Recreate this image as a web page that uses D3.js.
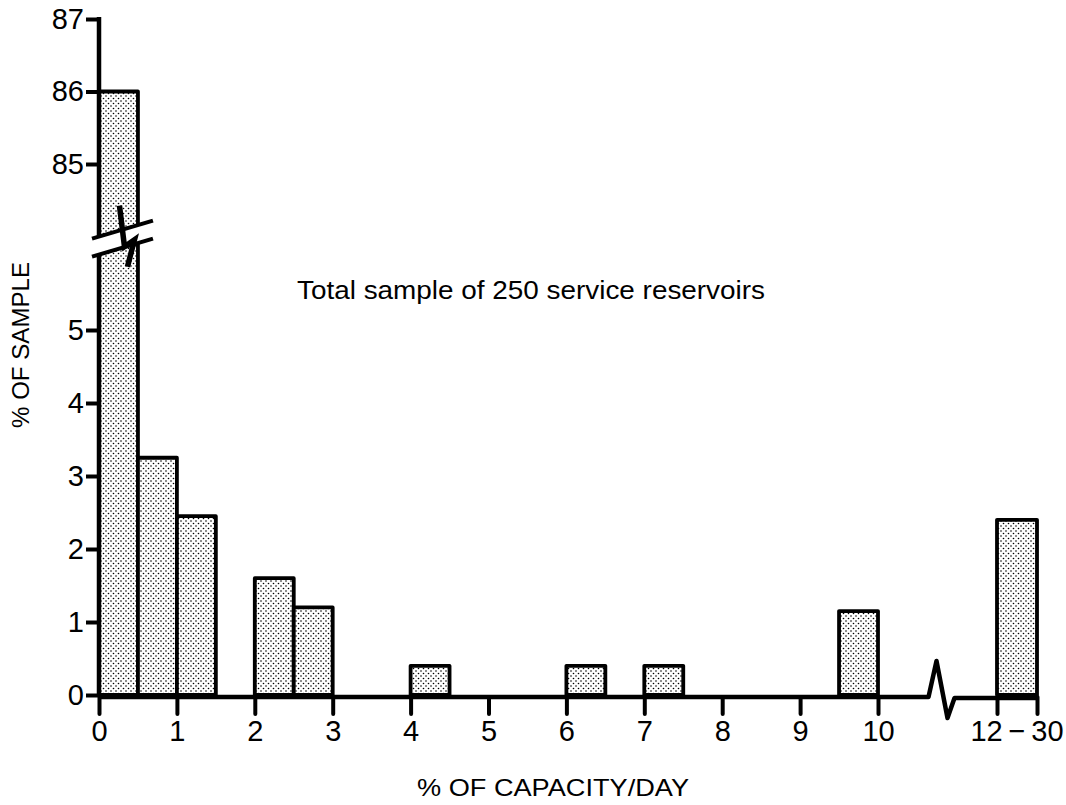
<!DOCTYPE html>
<html>
<head>
<meta charset="utf-8">
<script src="https://cdn.jsdelivr.net/npm/d3@7/dist/d3.min.js"></script>
<style>
  html, body { margin: 0; padding: 0; background: #fff; }
  svg { display: block; font-family: "Liberation Sans", Arial, Helvetica, sans-serif; }
</style>
</head>
<body>
<svg id="chart" width="1066" height="805"></svg>
<script>
// ---- data ----
const binStart = [0, 0.5, 1, 2, 2.5, 4, 6, 7, 9.5, 12];
const binEnd   = [0.5, 1, 1.5, 2.5, 3, 4.5, 6.5, 7.5, 10, 30];
const pctSample = [86, 3.25, 2.45, 1.6, 1.2, 0.4, 0.4, 0.4, 1.15, 2.4];
const xTickValues = [0, 1, 2, 3, 4, 5, 6, 7, 8, 9, 10, 12, 30];
const xTickLabels = ["0", "1", "2", "3", "4", "5", "6", "7", "8", "9", "10", "", ""];
const lastRangeLabel = "12\u2009\u2212\u200930";
const yTickValues = [0, 1, 2, 3, 4, 5, 85, 86, 87];
const xTitle = "% OF CAPACITY/DAY";
const yTitle = "% OF SAMPLE";
const note = "Total sample of 250 service reservoirs";

// ---- scales (broken axes as polylinear scales) ----
const x = d3.scaleLinear().domain([0, 10, 12, 30]).range([99, 878, 997, 1037]);
const y = d3.scaleLinear().domain([0, 5, 85, 87]).range([695, 330, 164, 19]);

const svg = d3.select("#chart");
const FONT = "'Liberation Sans', Arial, Helvetica, sans-serif";

// stipple pattern
const defs = svg.append("defs");
const pat = defs.append("pattern").attr("id", "dots")
  .attr("patternUnits", "userSpaceOnUse").attr("width", 5).attr("height", 5);
pat.append("rect").attr("width", 5).attr("height", 5).attr("fill", "#fff");
pat.append("circle").attr("cx", 1).attr("cy", 1).attr("r", 0.8).attr("fill", "#000");
pat.append("circle").attr("cx", 3.5).attr("cy", 3.5).attr("r", 0.8).attr("fill", "#000");

const bars = binStart.map((s, i) => ({ s, e: binEnd[i], v: pctSample[i] }));

// bars
svg.append("g").selectAll("rect").data(bars).join("rect")
  .attr("x", d => x(d.s))
  .attr("y", d => y(d.v))
  .attr("width", d => x(d.e) - x(d.s))
  .attr("height", d => y(0) - y(d.v))
  .attr("fill", "url(#dots)")
  .attr("stroke", "#000")
  .attr("stroke-width", 3.8)
  .attr("stroke-linejoin", "round");

// y axis
const yAxis = d3.axisLeft(y).tickValues(yTickValues).tickSize(13).tickPadding(2)
  .tickFormat(d3.format("d"));
const gy = svg.append("g").attr("transform", `translate(${x(0)},0)`).call(yAxis);
gy.select(".domain").remove();
gy.selectAll(".tick line").attr("stroke", "#000").attr("stroke-width", 4);
gy.selectAll(".tick text").attr("font-size", 29).attr("fill", "#000")
  .attr("font-family", FONT);
svg.append("line")
  .attr("x1", x(0)).attr("x2", x(0))
  .attr("y1", y(0) + 2).attr("y2", y(87) - 2)
  .attr("stroke", "#000").attr("stroke-width", 4.5);

// x axis
const xAxis = d3.axisBottom(x).tickValues(xTickValues).tickSize(17).tickPadding(6)
  .tickFormat((d, i) => xTickLabels[i]);
const gx = svg.append("g").attr("transform", `translate(0,${y(0) + 2})`).call(xAxis);
gx.select(".domain").remove();
gx.selectAll(".tick line").attr("stroke", "#000").attr("stroke-width", 4)
  .attr("stroke-linecap", "round");
gx.selectAll(".tick text").attr("font-size", 29).attr("fill", "#000")
  .attr("font-family", FONT);

// x axis line with break between 10 and 12
const ax = y(0) + 2;
const bx = (x(10) + x(12)) / 2;
svg.append("path")
  .attr("d", `M${x(0)},${ax} H${bx - 9} L${bx - 1},${ax - 36} L${bx + 10},${ax + 21} L${bx + 17},${ax + 1} H${x(30)}`)
  .attr("fill", "none").attr("stroke", "#000").attr("stroke-width", 4.5)
  .attr("stroke-linejoin", "round");

// last range label centred under 12–30 bar
svg.append("text")
  .attr("x", (x(12) + x(30)) / 2).attr("y", ax + 17 + 6)
  .attr("dy", "0.71em").attr("text-anchor", "middle")
  .attr("font-size", 29).text(lastRangeLabel);

// y axis break
const bxl = x(0) - 7, bxr = x(0.5) + 15;
const byc = y(5) + (y(85) - y(5)) * 0.55;
const slope = 18;
const gap = 18;
const ul = byc - gap / 2 + slope / 2, ur = byc - gap / 2 - slope / 2;
svg.append("path")
  .attr("d", `M${bxl},${ul} L${bxr},${ur} L${bxr},${ur + gap} L${bxl},${ul + gap} Z`)
  .attr("fill", "#fff");
[0, gap].forEach(o => {
  svg.append("line")
    .attr("x1", bxl).attr("y1", ul + o).attr("x2", bxr).attr("y2", ur + o)
    .attr("stroke", "#000").attr("stroke-width", 4);
});
const zc = (x(0) + x(0.5)) / 2;
svg.append("path")
  .attr("d", `M${zc + 1},${byc - 33} L${zc + 6},${byc + 8} L${zc + 16},${byc + 1} L${zc + 9},${byc + 28}`)
  .attr("fill", "none").attr("stroke", "#000").attr("stroke-width", 5.5)
  .attr("stroke-linejoin", "miter");

// annotation
svg.append("text").attr("x", 297).attr("y", 299)
  .attr("font-size", 25).attr("textLength", 468).attr("lengthAdjust", "spacingAndGlyphs")
  .text(note);

// axis titles
svg.append("text").attr("x", 417).attr("y", 796)
  .attr("font-size", 24).attr("textLength", 272).attr("lengthAdjust", "spacingAndGlyphs")
  .text(xTitle);
svg.append("text").attr("transform", "translate(29,345) rotate(-90)")
  .attr("text-anchor", "middle").attr("font-size", 23)
  .attr("textLength", 166).attr("lengthAdjust", "spacingAndGlyphs")
  .text(yTitle);
</script>
</body>
</html>
